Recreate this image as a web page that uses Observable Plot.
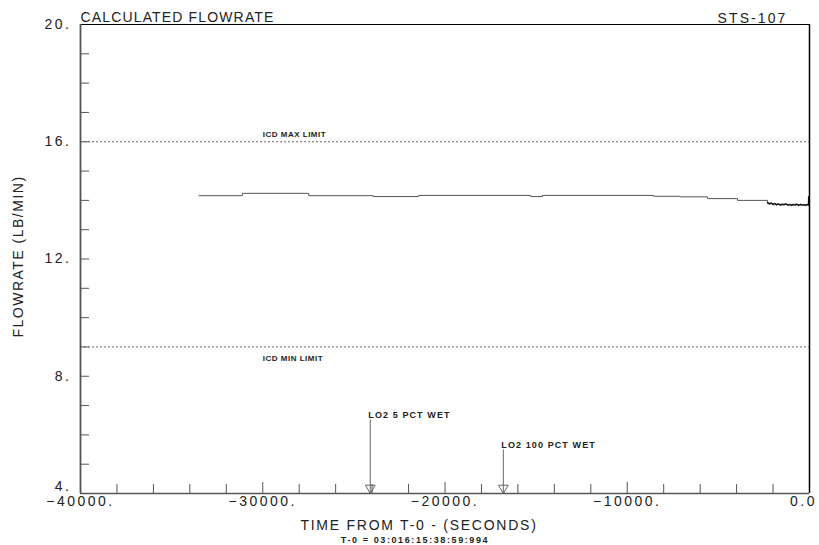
<!DOCTYPE html>
<html><head><meta charset="utf-8">
<script src="https://cdn.jsdelivr.net/npm/d3@7"></script>
<script src="https://cdn.jsdelivr.net/npm/@observablehq/plot@0.6"></script>
<style>
body{margin:0;background:#fff;}
#chart svg{display:block;}
g[aria-description="title"] text{letter-spacing:1.15px;}
g[aria-description="mission"] text{letter-spacing:2.1px;}
g[aria-description="tick-labels"] text{letter-spacing:2.5px;}
g[aria-description="xlabel"] text{letter-spacing:1.75px;}
g[aria-description="ylabel"] text{letter-spacing:1.5px;}
g[aria-description="small"] text{letter-spacing:1.1px;}
g[aria-description="limit"] text{letter-spacing:0.5px;}
g[aria-description="sub"] text{letter-spacing:1.6px;}
</style></head><body><div id="chart"></div>
<script>
// Flowrate steps (seconds from T-0, lb/min)
const stepTimes  = [-33500, -31120, -27480, -23920, -21450, -15300, -14650, -8550, -7100, -5600, -3950, -2300];
const stepValues = [14.16, 14.24, 14.16, 14.13, 14.17, 14.13, 14.17, 14.14, 14.12, 14.06, 14.00, 13.92];
// Noisy final segment
const noiseTimes  = [-2300, -2200, -2100, -2000, -1900, -1800, -1700, -1600, -1500, -1400, -1300, -1200, -1100, -1000, -900, -800, -700, -600, -500, -400, -300, -200, -100, -50, -40, -30];
const noiseValues = [13.92, 13.88, 13.91, 13.86, 13.89, 13.85, 13.88, 13.84, 13.87, 13.85, 13.88, 13.84, 13.86, 13.83, 13.86, 13.84, 13.87, 13.83, 13.86, 13.84, 13.85, 13.83, 13.86, 13.84, 14.12, 13.88];
// Limits
const limitNames  = ["ICD MAX LIMIT", "ICD MIN LIMIT"];
const limitValues = [16, 9];
const limitLabelTimes = [-30000, -30000];
// Events
const eventNames = ["LO2 5 PCT WET", "LO2 100 PCT WET"];
const eventTimes = [-24100, -16800];
const eventTops  = [6.51, 5.49];
// Axes
const xDomain = [-40000, 0];
const yDomain = [4, 20];
const xLabelTicks = [-40000, -30000, -20000, -10000];
const xLastTick = [0];
const xMajorTicks = [-30000, -20000, -10000];
const xMinorTicks = [-38000, -36000, -34000, -32000, -28000, -26000, -24000, -22000, -18000, -16000, -14000, -12000, -8000, -6000, -4000, -2000];
const yLabelTicks = [8, 12, 16, 20];
const yBottomTick = [4];
const yMinorTicks = [5, 6, 7, 8, 9, 10, 11, 12, 13, 14, 15, 16, 17, 18, 19];
const titleText = "CALCULATED FLOWRATE";
const missionText = "STS-107";
const xTitle = "TIME FROM T-0 - (SECONDS)";
const xSubTitle = "T-0 = 03:016:15:38:59:994";
const yTitle = "FLOWRATE (LB/MIN)";

const steps = stepTimes.map((t, i) => ({t, v: stepValues[i]}));
const noise = noiseTimes.map((t, i) => ({t, v: noiseValues[i]}));
const limits = limitNames.map((name, i) => ({name, v: limitValues[i], t: limitLabelTimes[i]}));
const events = eventNames.map((name, i) => ({name, t: eventTimes[i], top: eventTops[i]}));

const fmtX = d => d === 0 ? "0.0" : (d < 0 ? "\u2212" + Math.abs(d) : String(d)) + ".";
const fmtY = d => d + ".";
const ink = "#222";
const gray = "#666";

const chart = Plot.plot({
  width: 819, height: 545,
  marginLeft: 80, marginRight: 10, marginTop: 24, marginBottom: 52,
  style: {fontFamily: "'Liberation Sans', Arial, sans-serif", color: ink, background: "#fff"},
  x: {domain: xDomain, label: null},
  y: {domain: yDomain, label: null},
  marks: [
    // limits
    Plot.ruleY(limits, {y: "v", stroke: gray, strokeWidth: 1, strokeDasharray: "2,2"}),
    Plot.text(limits.slice(0,1), {x: "t", y: "v", text: "name", textAnchor: "start", lineAnchor: "bottom", dy: -5, fontSize: 8, fontWeight: "bold", fill: ink, ariaDescription: "limit"}),
    Plot.text(limits.slice(1), {x: "t", y: "v", text: "name", textAnchor: "start", lineAnchor: "bottom", dy: 14, fontSize: 8, fontWeight: "bold", fill: ink, ariaDescription: "limit"}),
    // events
    Plot.ruleX(events, {x: "t", y1: "top", y2: yDomain[0], stroke: gray, strokeWidth: 1}),
    Plot.dot(events, {x: "t", y: () => yDomain[0], symbol: "triangle", rotate: 180, r: 3.6, dy: -5.5, fill: "none", stroke: gray, strokeWidth: 1}),
    Plot.text(events, {x: "t", y: "top", text: "name", textAnchor: "start", lineAnchor: "bottom", dx: -2, dy: -2, fontSize: 9, fontWeight: "bold", fill: ink, ariaDescription: "small"}),
    // data
    Plot.line(steps, {x: "t", y: "v", curve: "step-after", stroke: "#555", strokeWidth: 1}),
    Plot.line(noise, {x: "t", y: "v", stroke: "#111", strokeWidth: 1.6}),
    // frame
    Plot.ruleY([yDomain[1]], {stroke: "#000", strokeWidth: 1.2}),
    Plot.ruleX([xDomain[1]], {stroke: "#000", strokeWidth: 1.5}),
    Plot.ruleX([xDomain[0]], {stroke: "#555", strokeWidth: 1.8}),
    Plot.ruleY([yDomain[0]], {stroke: "#555", strokeWidth: 1.5}),
    // ticks
    Plot.axisY({ticks: yMinorTicks, tickSize: -9, tickFormat: () => "", stroke: "#555", label: null}),
    Plot.axisX({ticks: xMinorTicks, tickSize: -9, tickFormat: () => "", stroke: "#555", label: null}),
    Plot.axisX({ticks: xMajorTicks, tickSize: -11, tickFormat: () => "", stroke: "#555", label: null}),
    // tick labels
    Plot.axisY({ticks: yLabelTicks, tickSize: 0, tickPadding: 9, tickFormat: fmtY, fontSize: 14, fill: ink, ariaDescription: "tick-labels", label: null}),
    Plot.axisY({ticks: yBottomTick, tickSize: 0, tickPadding: 9, tickFormat: fmtY, fontSize: 14, dy: -7, fill: ink, ariaDescription: "tick-labels", label: null}),
    Plot.axisX({ticks: xLabelTicks, tickSize: 0, tickPadding: 3, tickFormat: fmtX, fontSize: 14, fill: ink, ariaDescription: "tick-labels", label: null}),
    Plot.axisX({ticks: xLastTick, tickSize: 0, tickPadding: 3, tickFormat: fmtX, fontSize: 14, dx: -6, fill: ink, ariaDescription: "tick-labels", label: null}),
    // titles
    Plot.text([titleText], {frameAnchor: "top-left", textAnchor: "start", lineAnchor: "bottom", dy: -3, fontSize: 14, fill: ink, ariaDescription: "title"}),
    Plot.text([missionText], {frameAnchor: "top-right", textAnchor: "end", lineAnchor: "bottom", dx: -22, dy: -2, fontSize: 14, fill: ink, ariaDescription: "mission"}),
    Plot.text([xTitle], {frameAnchor: "bottom", textAnchor: "middle", lineAnchor: "bottom", dx: -26, dy: 36, fontSize: 14, fill: ink, ariaDescription: "xlabel"}),
    Plot.text([xSubTitle], {frameAnchor: "bottom", textAnchor: "middle", lineAnchor: "bottom", dx: -30, dy: 49, fontSize: 9, fontWeight: "bold", fill: ink, ariaDescription: "sub"}),
    Plot.text([yTitle], {frameAnchor: "left", textAnchor: "middle", lineAnchor: "middle", rotate: -90, dx: -62, dy: -2.5, fontSize: 14, fill: ink, ariaDescription: "ylabel"})
  ]
});
document.getElementById("chart").appendChild(chart);
</script></body></html>
